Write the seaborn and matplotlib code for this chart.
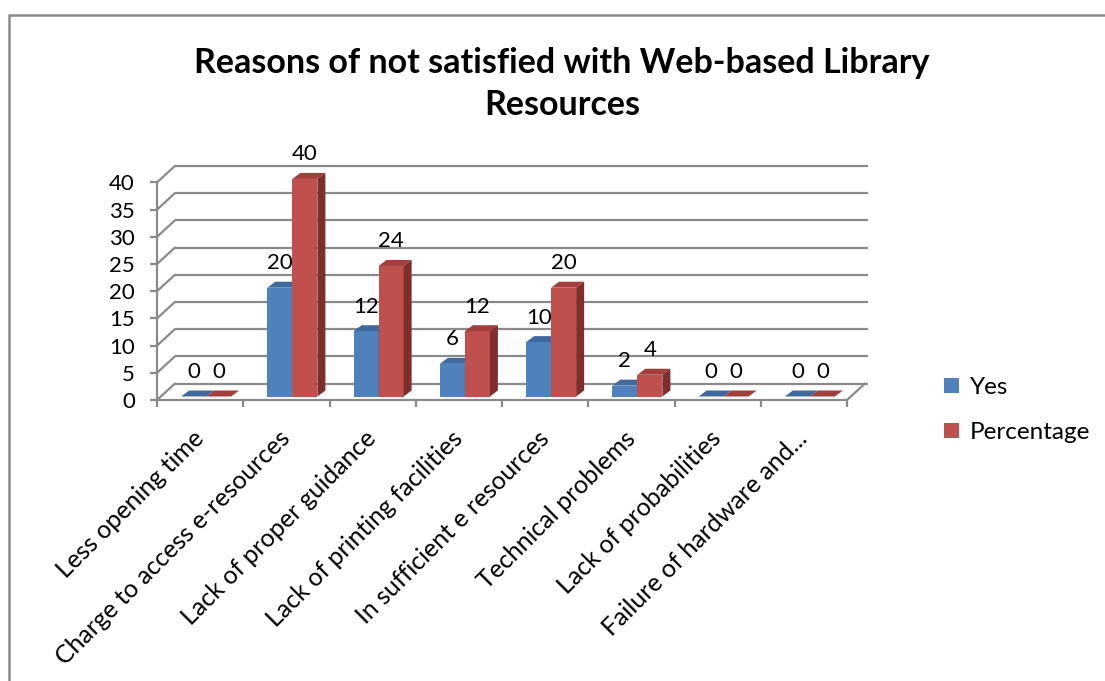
import numpy as np
import pandas as pd
import matplotlib
matplotlib.use("Agg")
import matplotlib.pyplot as plt
from matplotlib.patches import Polygon, Rectangle
import seaborn as sns

# ---- data ----
categories = [
    "Less opening time",
    "Charge to access e-resources",
    "Lack of proper guidance",
    "Lack of printing facilities",
    "In sufficient e resources",
    "Technical problems",
    "Lack of probabilities",
    "Failure of hardware and...",
]
yes_values = [0, 20, 12, 6, 10, 2, 0, 0]
percentage_values = [0, 40, 24, 12, 20, 4, 0, 0]
series_names = ["Yes", "Percentage"]
y_ticks = [0, 5, 10, 15, 20, 25, 30, 35, 40]
title_text = "Reasons of not satisfied with Web-based Library\nResources"

# ---- styling ----
FONT = "Lato"
FRONT = {"Yes": "#4F81BD", "Percentage": "#C0504D"}
TOP = {"Yes": "#3F6AA0", "Percentage": "#A23E3B"}
SIDE = {"Yes": "#375D8C", "Percentage": "#7E2F2D"}
GRID = "#8A8A8A"
NUM_SIZE = 16
TXT_SIZE = 18

W, H, DPI = 1105, 681, 100
sns.set_theme(style="white")
plt.rcParams["font.family"] = [FONT, "DejaVu Sans"]
plt.rcParams["text.color"] = "black"
plt.rcParams["xtick.labelcolor"] = "black"
plt.rcParams["ytick.labelcolor"] = "black"

df = pd.DataFrame({
    "Reason": categories * 2,
    "Series": [series_names[0]] * len(categories) + [series_names[1]] * len(categories),
    "Value": yes_values + percentage_values,
})

fig = plt.figure(figsize=(W / DPI, H / DPI), dpi=DPI)
fig.patch.set_facecolor("white")

# plot area geometry (pixels)
px_cat = 86.25          # width of one category slot
px_unit = 5.44          # pixels per value unit
sx = 6 / px_cat         # bars sit slightly behind the front plane
sy = 3.5 / px_unit
x0 = -0.5 - sx
x1 = len(categories) - 0.5 - sx
xr = x1 + 0.3
ytop = 44
left_px, floor_px = 157, 400
ax = fig.add_axes([left_px / W, (H - floor_px) / H,
                   (xr - x0) * px_cat / W, (ytop + sy) * px_unit / H])

sns.barplot(data=df, x="Reason", y="Value", hue="Series", order=categories,
            hue_order=series_names, palette=[FRONT[s] for s in series_names],
            width=0.58, saturation=1, legend=False, ax=ax, linewidth=0)

ax.set_xlim(x0, xr)
ax.set_ylim(-sy, ytop)
ax.set_facecolor("none")

# depth offsets in data units
DX, DY = 18 / px_cat, 16.5 / px_unit     # walls / floor
BX, BY = 8 / px_cat, 6 / px_unit         # bar depth

# back wall gridlines and left wall diagonals
for yv in y_ticks:
    yf = yv - sy
    ax.plot([x0 + DX, x1 + DX + 0.04], [yf + DY, yf + DY], color=GRID, lw=1.6, zorder=0.5,
            clip_on=False, solid_capstyle="butt")
    ax.plot([x0, x0 + DX], [yf, yf + DY], color=GRID, lw=1.6, zorder=0.5, clip_on=False)
# right edge of the floor
ax.plot([x1, x1 + DX], [-sy, -sy + DY], color=GRID, lw=1.6, zorder=0.5, clip_on=False)

# 3-D faces for every bar
for si, (name, cont) in enumerate(zip(series_names, ax.containers)):
    base_z = 2 + si
    for bar in cont:
        bx, bw, bh = bar.get_x(), bar.get_width(), bar.get_height()
        bar.set_zorder(base_z)
        top = Polygon([(bx, bh), (bx + bw, bh), (bx + bw + BX, bh + BY), (bx + BX, bh + BY)],
                      closed=True, facecolor=TOP[name], edgecolor="none", zorder=base_z + 0.1)
        ax.add_patch(top)
        if bh > 0:
            side = Polygon([(bx + bw, 0), (bx + bw + BX, BY), (bx + bw + BX, bh + BY), (bx + bw, bh)],
                           closed=True, facecolor=SIDE[name], edgecolor="none", zorder=base_z + 0.1)
            ax.add_patch(side)
    ax.bar_label(cont, labels=[f"{v:g}" for v in cont.datavalues], padding=10.5,
                 fontsize=NUM_SIZE, color="black", family=FONT, zorder=6)

# axes lines and ticks
for s in ["top", "right"]:
    ax.spines[s].set_visible(False)
ax.spines["left"].set_bounds(-sy, 40 - sy)
ax.spines["bottom"].set_bounds(x0, x1)
ax.spines["bottom"].set_position(("data", -sy))
for s in ["left", "bottom"]:
    ax.spines[s].set_color(GRID)
    ax.spines[s].set_linewidth(1.6)
    ax.spines[s].set_zorder(0.6)

ax.set_yticks([v - sy for v in y_ticks])
ax.set_yticklabels([str(v) for v in y_ticks], fontsize=NUM_SIZE, family=FONT, color="black")
ax.tick_params(axis="y", length=5, width=1.6, color=GRID, pad=11, left=True)

boundaries = [x0 + i for i in range(len(categories) + 1)]
centers = [c - sx for c in range(len(categories))]
ax.set_xticks(boundaries)
ax.set_xticklabels([""] * len(boundaries))
ax.set_xticks(centers, minor=True)
ax.set_xticklabels(categories, minor=True, rotation=45, ha="right", va="center",
                   rotation_mode="anchor", fontsize=TXT_SIZE, family=FONT, color="black")
ax.tick_params(axis="x", which="major", length=5, width=1.6, color=GRID, bottom=True)
ax.tick_params(axis="x", which="minor", length=0, pad=25)
ax.set_xlabel("")
ax.set_ylabel("")

# legend
handles = [Rectangle((0, 0), 1, 1, facecolor=FRONT[s], edgecolor="none") for s in series_names]
fig.legend(handles, series_names, loc="center left",
           bbox_to_anchor=(944 / W, (H - 410) / H), frameon=False,
           handlelength=0.6, handleheight=0.6, handletextpad=0.45,
           labelspacing=1.0, borderpad=0, borderaxespad=0,
           prop={"family": FONT, "size": 17.5})

# title
fig.text(562 / W, (H - 84) / H, title_text, ha="center", va="center", color="black",
         fontsize=24.5, fontweight="bold", family=FONT, linespacing=1.38)

# chart frame
fig.add_artist(Rectangle((8.5 / W, -0.05), 1.2, (H - 15) / H + 0.05,
                         transform=fig.transFigure, fill=False,
                         edgecolor="#8C8C8C", lw=1.8))

fig.savefig("out.png", dpi=DPI, facecolor="white")
